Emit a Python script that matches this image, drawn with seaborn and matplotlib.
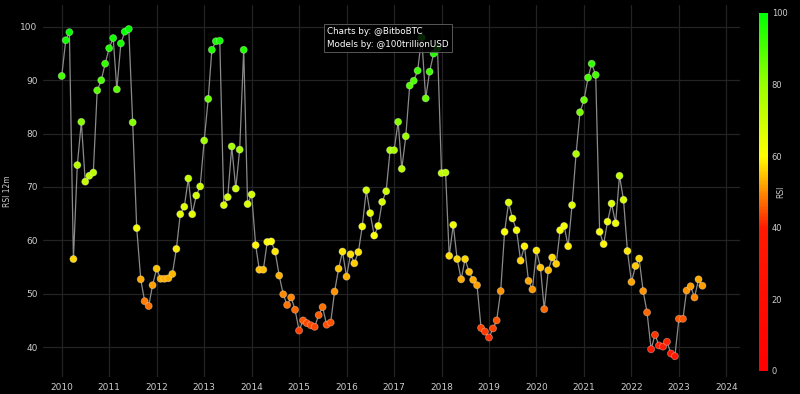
import numpy as np
import pandas as pd
import matplotlib
matplotlib.use("Agg")
import matplotlib.pyplot as plt
import seaborn as sns
from matplotlib.colors import LinearSegmentedColormap, Normalize
from matplotlib.cm import ScalarMappable

# Monthly RSI (12m) values starting Jan 2010
start_month = "2010-01-01"
rsi = [
    90.8, 97.5, 99.0, 56.5, 74.1, 82.2, 71.0, 72.1, 72.7, 88.1, 90.0, 93.1,   # 2010
    96.0, 97.9, 88.3, 96.9, 99.1, 99.6, 82.1, 62.3, 52.7, 48.6, 47.7, 51.6,   # 2011
    54.7, 52.8, 52.8, 52.9, 53.7, 58.4, 64.9, 66.3, 71.6, 64.9, 68.4, 70.1,   # 2012
    78.7, 86.5, 95.7, 97.3, 97.4, 66.6, 68.1, 77.6, 69.7, 77.0, 95.7, 66.8,   # 2013
    68.6, 59.1, 54.5, 54.5, 59.7, 59.8, 57.9, 53.4, 49.9, 47.9, 49.3, 47.0,   # 2014
    43.1, 45.0, 44.5, 44.1, 43.8, 46.0, 47.5, 44.2, 44.6, 50.4, 54.7, 57.9,   # 2015
    53.2, 57.4, 55.7, 57.8, 62.6, 69.4, 65.1, 60.9, 62.7, 67.2, 69.2, 76.9,   # 2016
    76.9, 82.2, 73.4, 79.5, 89.0, 89.9, 91.8, 98.0, 86.6, 91.6, 95.0, 96.0,   # 2017
    72.6, 72.7, 57.1, 62.9, 56.5, 52.7, 56.5, 54.1, 52.6, 51.6, 43.6, 42.9,   # 2018
    41.8, 43.5, 45.0, 50.5, 61.6, 67.1, 64.1, 61.9, 56.2, 58.9, 52.4, 50.8,   # 2019
    58.1, 54.9, 47.1, 54.4, 56.8, 55.6, 61.9, 62.7, 58.9, 66.6, 76.2, 84.0,   # 2020
    86.3, 90.5, 93.1, 91.0, 61.6, 59.3, 63.5, 66.9, 63.2, 72.1, 67.6, 58.0,   # 2021
    52.2, 55.2, 56.6, 50.5, 46.5, 39.6, 42.3, 40.3, 40.1, 41.0, 38.8, 38.3,   # 2022
    45.3, 45.3, 50.6, 51.4, 49.3, 52.7, 51.5,                                 # 2023
]
year_ticks = list(range(2010, 2025))
cbar_ticks = [0, 20, 40, 60, 80, 100]

df = pd.DataFrame({
    "date": pd.date_range(start_month, periods=len(rsi), freq="MS"),
    "rsi": rsi,
})

cmap = LinearSegmentedColormap.from_list(
    "rsi_cmap",
    [(0.0, "#ff0000"), (0.40, "#ff1a00"), (0.5, "#ff8c00"),
     (0.6, "#ffff00"), (0.8, "#99ff00"), (1.0, "#00ff00")],
)
norm = Normalize(0, 100)

sns.set_theme(style="dark")
plt.rcParams["font.family"] = ["DejaVu Sans"]

fig = plt.figure(figsize=(8.0, 3.94), dpi=100, facecolor="black")
ax = fig.add_axes([43 / 800, 1 - 377 / 394, (740 - 43) / 800, (377 - 5) / 394])
ax.set_facecolor("black")

sns.lineplot(data=df, x="date", y="rsi", ax=ax, color="#8a8a8a",
             linewidth=0.9, zorder=2)
sns.scatterplot(data=df, x="date", y="rsi", hue="rsi", palette=cmap,
                hue_norm=(0, 100), ax=ax, s=26, linewidth=0.6,
                edgecolor=(1, 1, 1, 0.35), legend=False, zorder=3)

ax.set_xlim(pd.Timestamp("2009-08-10"), pd.Timestamp("2024-04-15"))
ax.set_ylim(34.4, 104.1)
ax.set_xticks([pd.Timestamp(f"{y}-01-01") for y in year_ticks])
ax.set_xticklabels([str(y) for y in year_ticks])
ax.set_yticks([40, 50, 60, 70, 80, 90, 100])
ax.grid(True, color="#232323", linewidth=0.9)
for s in ax.spines.values():
    s.set_visible(False)
ax.tick_params(colors="#cccccc", labelsize=6.5, length=0, pad=4)
ax.set_xlabel("")
ax.set_ylabel("RSI 12m", color="#cccccc", fontsize=5.5, labelpad=6)

# annotation box
fig.text(327 / 800, 1 - 38 / 394, "Charts by: @BitboBTC\nModels by: @100trillionUSD",
         color="white", fontsize=6.3, va="center", ha="left", linespacing=1.6,
         bbox=dict(boxstyle="square,pad=0.35", facecolor="black",
                   edgecolor="#666666", linewidth=0.7, alpha=0.85))

# colorbar
cax = fig.add_axes([759 / 800, 1 - 371 / 394, 8.5 / 800, (371 - 13) / 394])
sm = ScalarMappable(norm=norm, cmap=cmap)
cb = fig.colorbar(sm, cax=cax, ticks=cbar_ticks)
cb.outline.set_visible(False)
cb.ax.tick_params(colors="#cccccc", labelsize=6, length=0, pad=3)
fig.text(781 / 800, 1 - 192 / 394, "RSI", color="#cccccc", fontsize=5.5,
         rotation=90, ha="center", va="center")

fig.savefig("out.png", dpi=100, facecolor="black")
